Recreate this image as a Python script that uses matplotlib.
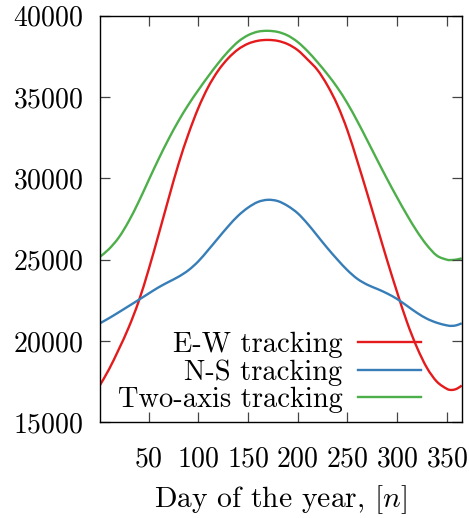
import matplotlib
matplotlib.use("Agg")
import matplotlib.pyplot as plt
from matplotlib.path import Path
from matplotlib.patches import PathPatch
from matplotlib.lines import Line2D

plt.rcParams['font.family'] = ['cmr10', 'DejaVu Serif']
plt.rcParams['mathtext.fontset'] = 'cm'
plt.rcParams['axes.formatter.use_mathtext'] = True

days = [1, 10, 20, 30, 40, 50, 60, 70, 80, 90, 100, 110, 120, 130, 140, 150, 160, 170,
        180, 190, 200, 210, 220, 230, 240, 250, 260, 270, 280, 290, 300, 310, 320, 330,
        340, 350, 355, 360, 365]

ew_tracking = [17290, 18250, 19500, 20850, 22450, 24400, 26550, 28750, 30880, 32730,
               34330, 35630, 36630, 37380, 37930, 38280, 38460, 38510, 38450, 38250,
               37880, 37300, 36650, 35700, 34500, 32950, 31050, 29050, 27000, 24950,
               23000, 21150, 19600, 18350, 17500, 17060, 16990, 17060, 17260]

ns_tracking = [21090, 21400, 21770, 22150, 22530, 22920, 23300, 23630, 23950, 24350,
               24900, 25600, 26330, 27050, 27700, 28200, 28550, 28680, 28600, 28300,
               27850, 27200, 26450, 25700, 25000, 24350, 23820, 23460, 23200, 22920,
               22580, 22160, 21730, 21370, 21120, 20960, 20930, 20970, 21090]

two_axis_tracking = [25180, 25650, 26370, 27370, 28570, 29890, 31190, 32410, 33530, 34530,
                     35430, 36280, 37080, 37800, 38400, 38800, 39020, 39070, 39000, 38780,
                     38380, 37810, 37130, 36390, 35570, 34610, 33510, 32330, 31130, 29950,
                     28820, 27740, 26740, 25890, 25250, 25000, 24980, 25010, 25080]

series_labels = ['E-W tracking', 'N-S tracking', 'Two-axis tracking']
series_colors = ['#e41a1c', '#377eb8', '#4daf4a']

x_ticks = [50, 100, 150, 200, 250, 300, 350]
y_ticks = [15000, 20000, 25000, 30000, 35000, 40000]


def smooth_path(xs, ys):
    """Catmull-Rom style cubic Bezier path through the data points."""
    pts = list(zip(xs, ys))
    n = len(pts)
    verts = [pts[0]]
    codes = [Path.MOVETO]
    for i in range(n - 1):
        p0 = pts[i - 1] if i > 0 else pts[i]
        p1 = pts[i]
        p2 = pts[i + 1]
        p3 = pts[i + 2] if i + 2 < n else pts[i + 1]
        c1 = (p1[0] + (p2[0] - p0[0]) / 6.0, p1[1] + (p2[1] - p0[1]) / 6.0)
        c2 = (p2[0] - (p3[0] - p1[0]) / 6.0, p2[1] - (p3[1] - p1[1]) / 6.0)
        verts += [c1, c2, p2]
        codes += [Path.CURVE4] * 3
    return Path(verts, codes)


fig = plt.figure(figsize=(4.69, 5.18), dpi=100)
ax = fig.add_axes([100/469, 1 - 422.3/518, 361.7/469, 406.6/518])

lw = 1.7
handles = []
for ys, lab, col in zip([ew_tracking, ns_tracking, two_axis_tracking],
                        series_labels, series_colors):
    patch = PathPatch(smooth_path(days, ys), facecolor='none', edgecolor=col,
                      lw=lw, transform=ax.transData, clip_on=True)
    ax.add_patch(patch)
    handles.append(Line2D([], [], color=col, lw=lw, label=lab))

ax.set_xlim(1, 365)
ax.set_ylim(15000, 40000)
ax.set_xticks(x_ticks)
ax.set_yticks(y_ticks)
ax.tick_params(axis='both', direction='in', length=7.2, width=0.9, color='#444444',
               top=True, right=True, labelsize=20)
ax.tick_params(axis='y', pad=12)
ax.tick_params(axis='x', pad=17)
for s in ax.spines.values():
    s.set_linewidth(1.0)
    s.set_color('black')

ax.set_xlabel('Day of the year, $[n]$', fontsize=21.3, labelpad=8)

leg = ax.legend(handles=handles, loc='lower right', bbox_to_anchor=(0.8875, 0.022),
                frameon=False, markerfirst=False, handlelength=2.2, handletextpad=0.56,
                labelspacing=0.04, borderpad=0.0, borderaxespad=0.0, fontsize=20.5)

fig.savefig('out.png', dpi=100)
